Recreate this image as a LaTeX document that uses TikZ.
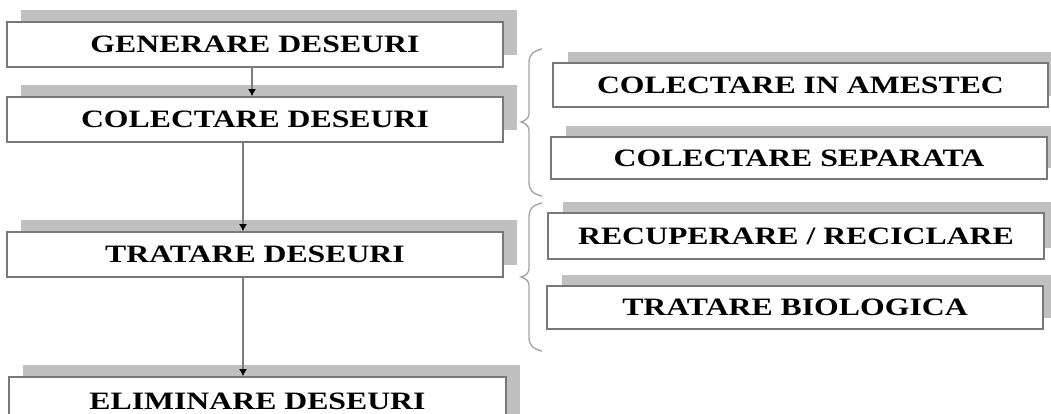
\documentclass[tikz,border=0pt]{standalone}
\usepackage{fontspec}
\newfontfamily\lblfont[FakeStretch=1.27]{Liberation Serif}
\usetikzlibrary{arrows.meta,shadows}
\definecolor{boxgray}{RGB}{120,120,120}
\definecolor{shadowgray}{RGB}{192,192,192}
\definecolor{linegray}{RGB}{125,125,125}
\definecolor{bracegray}{RGB}{165,165,165}
\tikzset{
  stagebox/.style={draw=boxgray, fill=white, line width=1.6pt, inner sep=0pt,
    font=\lblfont\bfseries\fontsize{25}{28}\selectfont,
    drop shadow={shadow xshift=14pt, shadow yshift=12pt, opacity=1, fill=shadowgray}},
  subbox/.style={draw=boxgray, fill=white, line width=1.6pt, inner sep=0pt,
    font=\lblfont\bfseries\fontsize{25}{28}\selectfont,
    drop shadow={shadow xshift=15pt, shadow yshift=11pt, opacity=1, fill=shadowgray}},
  flow/.style={draw=linegray, line width=1.4pt, -{Latex[black,length=7pt,width=8pt]}},
  bracepath/.style={draw=bracegray, line width=1.4pt}
}
\begin{document}
\begin{tikzpicture}[x=1pt,y=-1pt]
\useasboundingbox (0,0) rectangle (1051,414);
\clip (0,0) rectangle (1051,414);
% left column
\node[stagebox, minimum width=496pt, minimum height=45pt] (gen) at (255,44.5) {GENERARE DESEURI};
\node[stagebox, minimum width=496pt, minimum height=45pt] (col) at (255,119.5) {COLECTARE DESEURI};
\node[stagebox, minimum width=496pt, minimum height=45pt] (trat) at (255,254.5) {TRATARE DESEURI};
\node[stagebox, minimum width=497pt, minimum height=49pt] (elim) at (257.5,401.5) {ELIMINARE DESEURI};
% right column
\node[subbox, minimum width=495pt, minimum height=44pt] (amest) at (800.5,85) {COLECTARE IN AMESTEC};
\node[subbox, minimum width=496pt, minimum height=42pt] (sep) at (799,158) {COLECTARE SEPARATA};
\node[subbox, minimum width=496pt, minimum height=46pt] (recup) at (796,236) {RECUPERARE / RECICLARE};
\node[subbox, minimum width=496pt, minimum height=43pt] (bio) at (795,307.5) {TRATARE BIOLOGICA};
% arrows
\coordinate (xa) at (252,0);
\coordinate (xb) at (243,0);
\draw[flow] (xa |- gen.south) -- (xa |- col.north);
\draw[flow] (xb |- col.south) -- (xb |- trat.north);
\draw[flow] (xb |- trat.south) -- (xb |- elim.north);
% braces
\draw[bracepath] (542,49) .. controls (533,51) and (529,55) .. (529,62) -- (529,114)
  .. controls (529,118) and (525,121) .. (521,122)
  .. controls (525,123) and (529,126) .. (529,130) -- (529,183)
  .. controls (529,190) and (533,194) .. (542,196);
\draw[bracepath] (542,203) .. controls (533,205) and (529,209) .. (529,216) -- (529,269)
  .. controls (529,273) and (525,276) .. (521,277)
  .. controls (525,278) and (529,281) .. (529,285) -- (529,338)
  .. controls (529,345) and (533,349) .. (542,351);
\end{tikzpicture}
\end{document}
